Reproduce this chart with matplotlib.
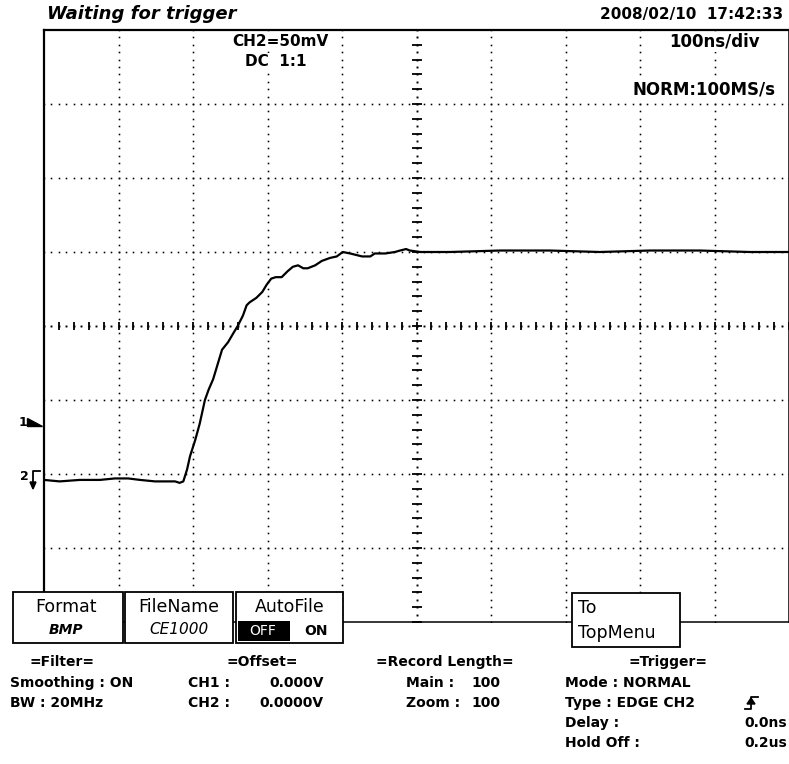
import numpy as np
import matplotlib
matplotlib.use("Agg")
import matplotlib.pyplot as plt
from matplotlib.patches import Rectangle, Polygon
from matplotlib.lines import Line2D

# CH2 step response, time in ns (100 ns/div), voltage in mV (50 mV/div)
time_ns = [-500, -479, -452, -425, -405, -395, -387, -371, -351, -338, -324, -318,
           -313, -308, -304, -297, -291, -284, -279, -273, -267, -261, -253, -246,
           -240, -233, -228, -224, -215, -207, -201, -195, -189, -181, -173, -166,
           -159, -152, -146, -136, -127, -116, -107, -99, -89, -81, -73, -62, -56,
           -42, -29, -22, -14, -9, 5, 45, 112, 179, 246, 313, 380, 447, 500]
volt_mv = [-104, -105, -104, -104, -103, -103, -103, -104, -105, -105, -105, -106,
           -105, -97, -88, -77, -66, -50, -43, -36, -26, -16, -11, -5,
           0, 7, 14, 16, 19, 23, 28, 32, 33, 33, 37, 40,
           41, 39, 39, 41, 44, 46, 47, 50, 49, 48, 47, 47, 49,
           49, 50, 51, 52, 51, 50, 50, 51, 51, 50, 51, 51, 50, 50]

W, H = 789, 764


def fx(px):
    return px / W


def fy(py):
    return 1 - py / H


fig = plt.figure(figsize=(W / 100, H / 100), dpi=100)
ax = fig.add_axes([fx(44), fy(622), 745 / W, 592 / H])
ax.set_xlim(-500, 500)
ax.set_ylim(-200, 200)
ax.set_xticks([])
ax.set_yticks([])
for side in ["left", "top"]:
    ax.spines[side].set_linewidth(1.6)
for side in ["right", "bottom"]:
    ax.spines[side].set_linewidth(1.1)

# dotted graticule
ys = np.arange(-200, 201, 5)
xs = np.arange(-500, 501, 10)
for k in range(-4, 5):
    if k == 0:
        continue
    ax.plot(np.full_like(ys, k * 100), ys, ls="none", marker="s", ms=1.15, mew=0, color="black")
for k in range(-3, 4):
    if k == 0:
        continue
    ax.plot(xs, np.full_like(xs, k * 50), ls="none", marker="s", ms=1.15, mew=0, color="black")

# centre axes with minor ticks
ax.plot(xs, np.zeros_like(xs), ls="none", marker="s", ms=1.4, mew=0, color="black")
ax.plot(np.zeros_like(ys), ys, ls="none", marker="s", ms=1.4, mew=0, color="black")
tx = np.arange(-500, 501, 20)
ty = np.arange(-200, 201, 10)
ax.plot(tx, np.zeros_like(tx), ls="none", marker="|", ms=6, mew=1.3, color="black")
ax.plot(np.zeros_like(ty), ty, ls="none", marker="_", ms=7, mew=1.3, color="black")

ax.plot(time_ns, volt_mv, color="black", lw=1.6)

bold = dict(fontweight="bold", color="black")
white_bg = dict(facecolor="white", edgecolor="none", pad=1)

# header
fig.text(fx(47), fy(14), "Waiting for trigger", fontsize=13, fontstyle="italic",
         va="center", ha="left", **bold)
fig.text(fx(783), fy(14), "2008/02/10  17:42:33", fontsize=11, va="center", ha="right", **bold)
fig.text(fx(232), fy(42), "CH2=50mV", fontsize=11, va="center", ha="left", bbox=white_bg,
         zorder=5, **bold)
fig.text(fx(245), fy(62), "DC  1:1", fontsize=11, va="center", ha="left", bbox=white_bg,
         zorder=5, **bold)
fig.text(fx(760), fy(42), "100ns/div", fontsize=12, va="center", ha="right", bbox=white_bg,
         zorder=5, **bold)
fig.text(fx(775), fy(90), "NORM:100MS/s", fontsize=12, va="center", ha="right", bbox=white_bg,
         zorder=5, **bold)

# channel / trigger level markers on the left
fig.text(fx(23), fy(422), "1", fontsize=9, va="center", ha="center", **bold)
fig.patches.append(Polygon([(fx(27), fy(418)), (fx(27), fy(426)), (fx(42), fy(426))],
                           closed=True, color="black", transform=fig.transFigure))
fig.text(fx(24), fy(477), "2", fontsize=9, va="center", ha="center", **bold)
fig.lines.append(Line2D([fx(40), fx(33), fx(33)], [fy(471), fy(471), fy(487)],
                        color="black", lw=1.3, transform=fig.transFigure))
fig.patches.append(Polygon([(fx(30), fy(482)), (fx(36), fy(482)), (fx(33), fy(489))],
                           closed=True, color="black", transform=fig.transFigure))


# soft-key boxes
def box(x0, y0, x1, y1):
    fig.patches.append(Rectangle((fx(x0), fy(y1)), (x1 - x0) / W, (y1 - y0) / H,
                                 facecolor="white", edgecolor="black", lw=1.3,
                                 transform=fig.transFigure, zorder=5))


box(13, 592, 123, 643)
box(125, 592, 233, 643)
box(236, 592, 343, 643)
box(572, 593, 680, 647)

fig.text(fx(66), fy(607), "Format", fontsize=12.5, ha="center", va="center", zorder=6)
fig.text(fx(66), fy(630), "BMP", fontsize=10, fontstyle="italic", ha="center", va="center",
         zorder=6, **bold)
fig.text(fx(179), fy(607), "FileName", fontsize=12.5, ha="center", va="center", zorder=6)
fig.text(fx(179), fy(630), "CE1000", fontsize=11, fontstyle="italic", ha="center",
         va="center", zorder=6)
fig.text(fx(290), fy(607), "AutoFile", fontsize=12.5, ha="center", va="center", zorder=6)
fig.patches.append(Rectangle((fx(238), fy(641)), 52 / W, 20 / H, facecolor="black",
                             edgecolor="none", transform=fig.transFigure, zorder=6))
fig.text(fx(263), fy(631), "OFF", fontsize=10, color="white", ha="center", va="center", zorder=7)
fig.text(fx(316), fy(631), "ON", fontsize=10, fontweight="bold", ha="center", va="center", zorder=7)
fig.text(fx(578), fy(608), "To", fontsize=12.5, ha="left", va="center", zorder=6)
fig.text(fx(578), fy(633), "TopMenu", fontsize=12.5, ha="left", va="center", zorder=6)

# settings panel
rows = [662, 683, 703, 723, 743]
fs = 10
fig.text(fx(62), fy(rows[0]), "=Filter=", fontsize=fs, ha="center", va="center", **bold)
fig.text(fx(10), fy(rows[1]), "Smoothing : ON", fontsize=fs, va="center", **bold)
fig.text(fx(10), fy(rows[2]), "BW : 20MHz", fontsize=fs, va="center", **bold)

fig.text(fx(262), fy(rows[0]), "=Offset=", fontsize=fs, ha="center", va="center", **bold)
fig.text(fx(188), fy(rows[1]), "CH1 :", fontsize=fs, va="center", **bold)
fig.text(fx(324), fy(rows[1]), "0.000V", fontsize=fs, ha="right", va="center", **bold)
fig.text(fx(188), fy(rows[2]), "CH2 :", fontsize=fs, va="center", **bold)
fig.text(fx(324), fy(rows[2]), "0.0000V", fontsize=fs, ha="right", va="center", **bold)

fig.text(fx(445), fy(rows[0]), "=Record Length=", fontsize=fs, ha="center", va="center", **bold)
fig.text(fx(406), fy(rows[1]), "Main :", fontsize=fs, va="center", **bold)
fig.text(fx(500), fy(rows[1]), "100", fontsize=fs, ha="right", va="center", **bold)
fig.text(fx(406), fy(rows[2]), "Zoom :", fontsize=fs, va="center", **bold)
fig.text(fx(500), fy(rows[2]), "100", fontsize=fs, ha="right", va="center", **bold)

fig.text(fx(668), fy(rows[0]), "=Trigger=", fontsize=fs, ha="center", va="center", **bold)
fig.text(fx(565), fy(rows[1]), "Mode : NORMAL", fontsize=fs, va="center", **bold)
fig.text(fx(565), fy(rows[2]), "Type : EDGE CH2", fontsize=fs, va="center", **bold)
fig.text(fx(565), fy(rows[3]), "Delay :", fontsize=fs, va="center", **bold)
fig.text(fx(787), fy(rows[3]), "0.0ns", fontsize=fs, ha="right", va="center", **bold)
fig.text(fx(565), fy(rows[4]), "Hold Off :", fontsize=fs, va="center", **bold)
fig.text(fx(787), fy(rows[4]), "0.2us", fontsize=fs, ha="right", va="center", **bold)

# rising-edge glyph
fig.lines.append(Line2D([fx(745), fx(751), fx(751), fx(758)],
                        [fy(709), fy(709), fy(697), fy(697)],
                        color="black", lw=1.3, transform=fig.transFigure))
fig.patches.append(Polygon([(fx(747), fy(704)), (fx(755), fy(704)), (fx(751), fy(698))],
                           closed=True, color="black", transform=fig.transFigure))

fig.savefig("out.png", dpi=100)
